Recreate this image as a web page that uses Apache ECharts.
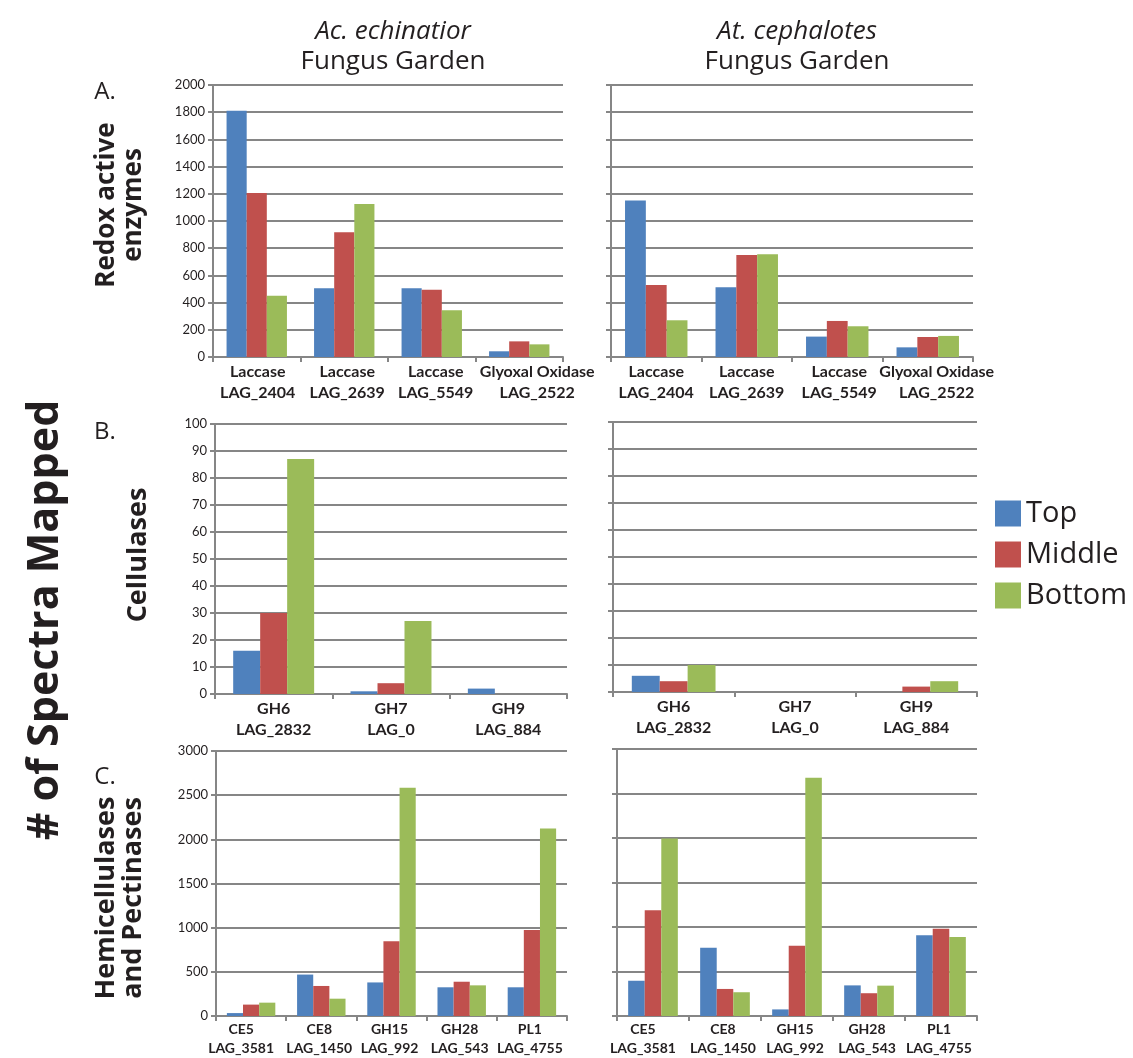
<!DOCTYPE html>
<html><head><meta charset="utf-8">
<script src="https://cdn.jsdelivr.net/npm/echarts@6/dist/echarts.min.js"></script>
<style>html,body{margin:0;padding:0;background:#fff}#c{width:1133px;height:1058px}</style>
</head><body><div id="c"></div>
<script>
const seriesNames = ['Top', 'Middle', 'Bottom'];
const redoxCats = ['Laccase\nLAG_2404', 'Laccase\nLAG_2639', 'Laccase\nLAG_5549', 'Glyoxal Oxidase\nLAG_2522'];
const celluCats = ['GH6\nLAG_2832', 'GH7\nLAG_0', 'GH9\nLAG_884'];
const hemiCats = ['CE5\nLAG_3581', 'CE8\nLAG_1450', 'GH15\nLAG_992', 'GH28\nLAG_543', 'PL1\nLAG_4755'];

const acRedoxTop = [1810, 505, 505, 42];
const acRedoxMid = [1205, 917, 495, 115];
const acRedoxBot = [450, 1125, 343, 93];
const atRedoxTop = [1150, 513, 150, 71];
const atRedoxMid = [530, 750, 265, 147];
const atRedoxBot = [270, 755, 226, 155];

const acCelluTop = [16, 1, 2];
const acCelluMid = [30, 4, 0];
const acCelluBot = [87, 27, 0];
const atCelluTop = [6, 0, 0];
const atCelluMid = [4, 0, 2];
const atCelluBot = [10, 0, 4];

const acHemiTop = [33, 469, 380, 325, 325];
const acHemiMid = [129, 340, 846, 388, 975];
const acHemiBot = [151, 196, 2585, 347, 2123];
const atHemiTop = [396, 767, 74, 344, 907];
const atHemiMid = [1189, 304, 789, 256, 981];
const atHemiBot = [1993, 267, 2678, 341, 889];

// [min, max, interval]
const redoxTicks = [0, 2000, 200];
const celluTicks = [0, 100, 10];
const hemiTicks = [0, 3000, 500];

const colors = ['#4F81BD', '#C0504D', '#9BBB59'];
const gray = '#868686';
const FONT = 'Lato, "Open Sans", sans-serif';

// horizontal nudge of each category label (px, + = right), as Excel shifts crowded labels
const panels = [
  {grid: {left: 213, top: 85, width: 350, height: 272}, cats: redoxCats, shift: [1, 3, 4, 18], ticks: redoxTicks, labels: true, fs: 16, lh: 21, data: [acRedoxTop, acRedoxMid, acRedoxBot]},
  {grid: {left: 611, top: 85, width: 362, height: 272}, cats: redoxCats, shift: [0, 0, 2, 9], ticks: redoxTicks, labels: false, fs: 16, lh: 21, data: [atRedoxTop, atRedoxMid, atRedoxBot]},
  {grid: {left: 215, top: 424, width: 352, height: 270}, cats: celluCats, shift: [0, 0, 0], ticks: celluTicks, labels: true, fs: 16, lh: 21, data: [acCelluTop, acCelluMid, acCelluBot]},
  {grid: {left: 613, top: 422, width: 364, height: 270}, cats: celluCats, shift: [0, 0, 0], ticks: celluTicks, labels: false, fs: 16, lh: 21, data: [atCelluTop, atCelluMid, atCelluBot]},
  {grid: {left: 216, top: 751, width: 351, height: 271}, cats: hemiCats, shift: [-10, -2, -2, -2, -2], ticks: hemiTicks, labels: true, fs: 14, lh: 19, data: [acHemiTop, acHemiMid, acHemiBot]},
  {grid: {left: 617, top: 749, width: 360, height: 270}, cats: hemiCats, shift: [-10, -2, -2, -2, -2], ticks: hemiTicks, labels: false, fs: 14, lh: 19, data: [atHemiTop, atHemiMid, atHemiBot]}
];

const grids = [], xAxes = [], yAxes = [], series = [];
panels.forEach((p, i) => {
  grids.push(Object.assign({containLabel: false}, p.grid));
  const catData = p.cats.map((c, j) => {
    const s = p.shift[j] || 0;
    return {value: c, textStyle: {padding: s >= 0 ? [0, 0, 0, 2 * s] : [0, -2 * s, 0, 0]}};
  });
  xAxes.push({
    type: 'category', gridIndex: i, data: catData,
    axisLine: {lineStyle: {color: gray, width: 2}},
    axisTick: {show: true, length: 5, lineStyle: {color: gray, width: 2}},
    axisLabel: {interval: 0, margin: 4, fontSize: p.fs, lineHeight: p.lh, fontWeight: 'bold', color: '#231F20', fontFamily: FONT}
  });
  yAxes.push({
    type: 'value', gridIndex: i, min: p.ticks[0], max: p.ticks[1], interval: p.ticks[2],
    axisLine: {show: true, lineStyle: {color: gray, width: 2}},
    axisTick: {show: true, length: 5, lineStyle: {color: gray, width: 2}},
    splitLine: {show: true, lineStyle: {color: gray, width: 2}},
    axisLabel: {show: p.labels, fontSize: 13, color: '#231F20', margin: 8, fontFamily: FONT, formatter: v => String(v)}
  });
  p.data.forEach((d, k) => {
    series.push({
      name: seriesNames[k], type: 'bar', xAxisIndex: i, yAxisIndex: i, data: d,
      barGap: '0%', barCategoryGap: '31%',
      itemStyle: {color: colors[k]}, animation: false
    });
  });
});

const txt = (x, y, text, style, rot) => ({
  type: 'text', x: x, y: y, rotation: rot || 0,
  style: Object.assign({text: text, fill: '#231F20', align: 'center', verticalAlign: 'middle', fontFamily: '"Open Sans", sans-serif'}, style)
});

const graphics = [
  txt(393, 32, 'Ac. echinatior', {fontSize: 26, fontStyle: 'italic'}),
  txt(393, 62, 'Fungus Garden', {fontSize: 26}),
  txt(797, 32, 'At. cephalotes', {fontSize: 26, fontStyle: 'italic'}),
  txt(797, 62, 'Fungus Garden', {fontSize: 26}),
  txt(105, 92, 'A.', {fontSize: 24}),
  txt(105, 432, 'B.', {fontSize: 24}),
  txt(105, 777, 'C.', {fontSize: 24}),
  txt(46, 620, '# of Spectra Mapped', {fontSize: 43, fontWeight: 'bold'}, Math.PI / 2),
  txt(120, 205, 'Redox active\nenzymes', {fontSize: 26, fontWeight: 'bold', lineHeight: 27}, Math.PI / 2),
  txt(138, 555, 'Cellulases', {fontSize: 27, fontWeight: 'bold'}, Math.PI / 2),
  txt(120, 898, 'Hemicellulases\nand Pectinases', {fontSize: 27, fontWeight: 'bold', lineHeight: 27}, Math.PI / 2)
];

const chart = echarts.init(document.getElementById('c'), null, {renderer: 'canvas'});
chart.setOption({
  backgroundColor: '#fff',
  animation: false,
  color: colors,
  legend: {
    data: seriesNames, orient: 'vertical', left: 990, top: 494,
    itemWidth: 26, itemHeight: 26, itemGap: 12, icon: 'rect',
    textStyle: {fontSize: 29, color: '#231F20', fontFamily: '"Open Sans", sans-serif'}
  },
  grid: grids, xAxis: xAxes, yAxis: yAxes, series: series,
  graphic: graphics
});
</script>
</body></html>
